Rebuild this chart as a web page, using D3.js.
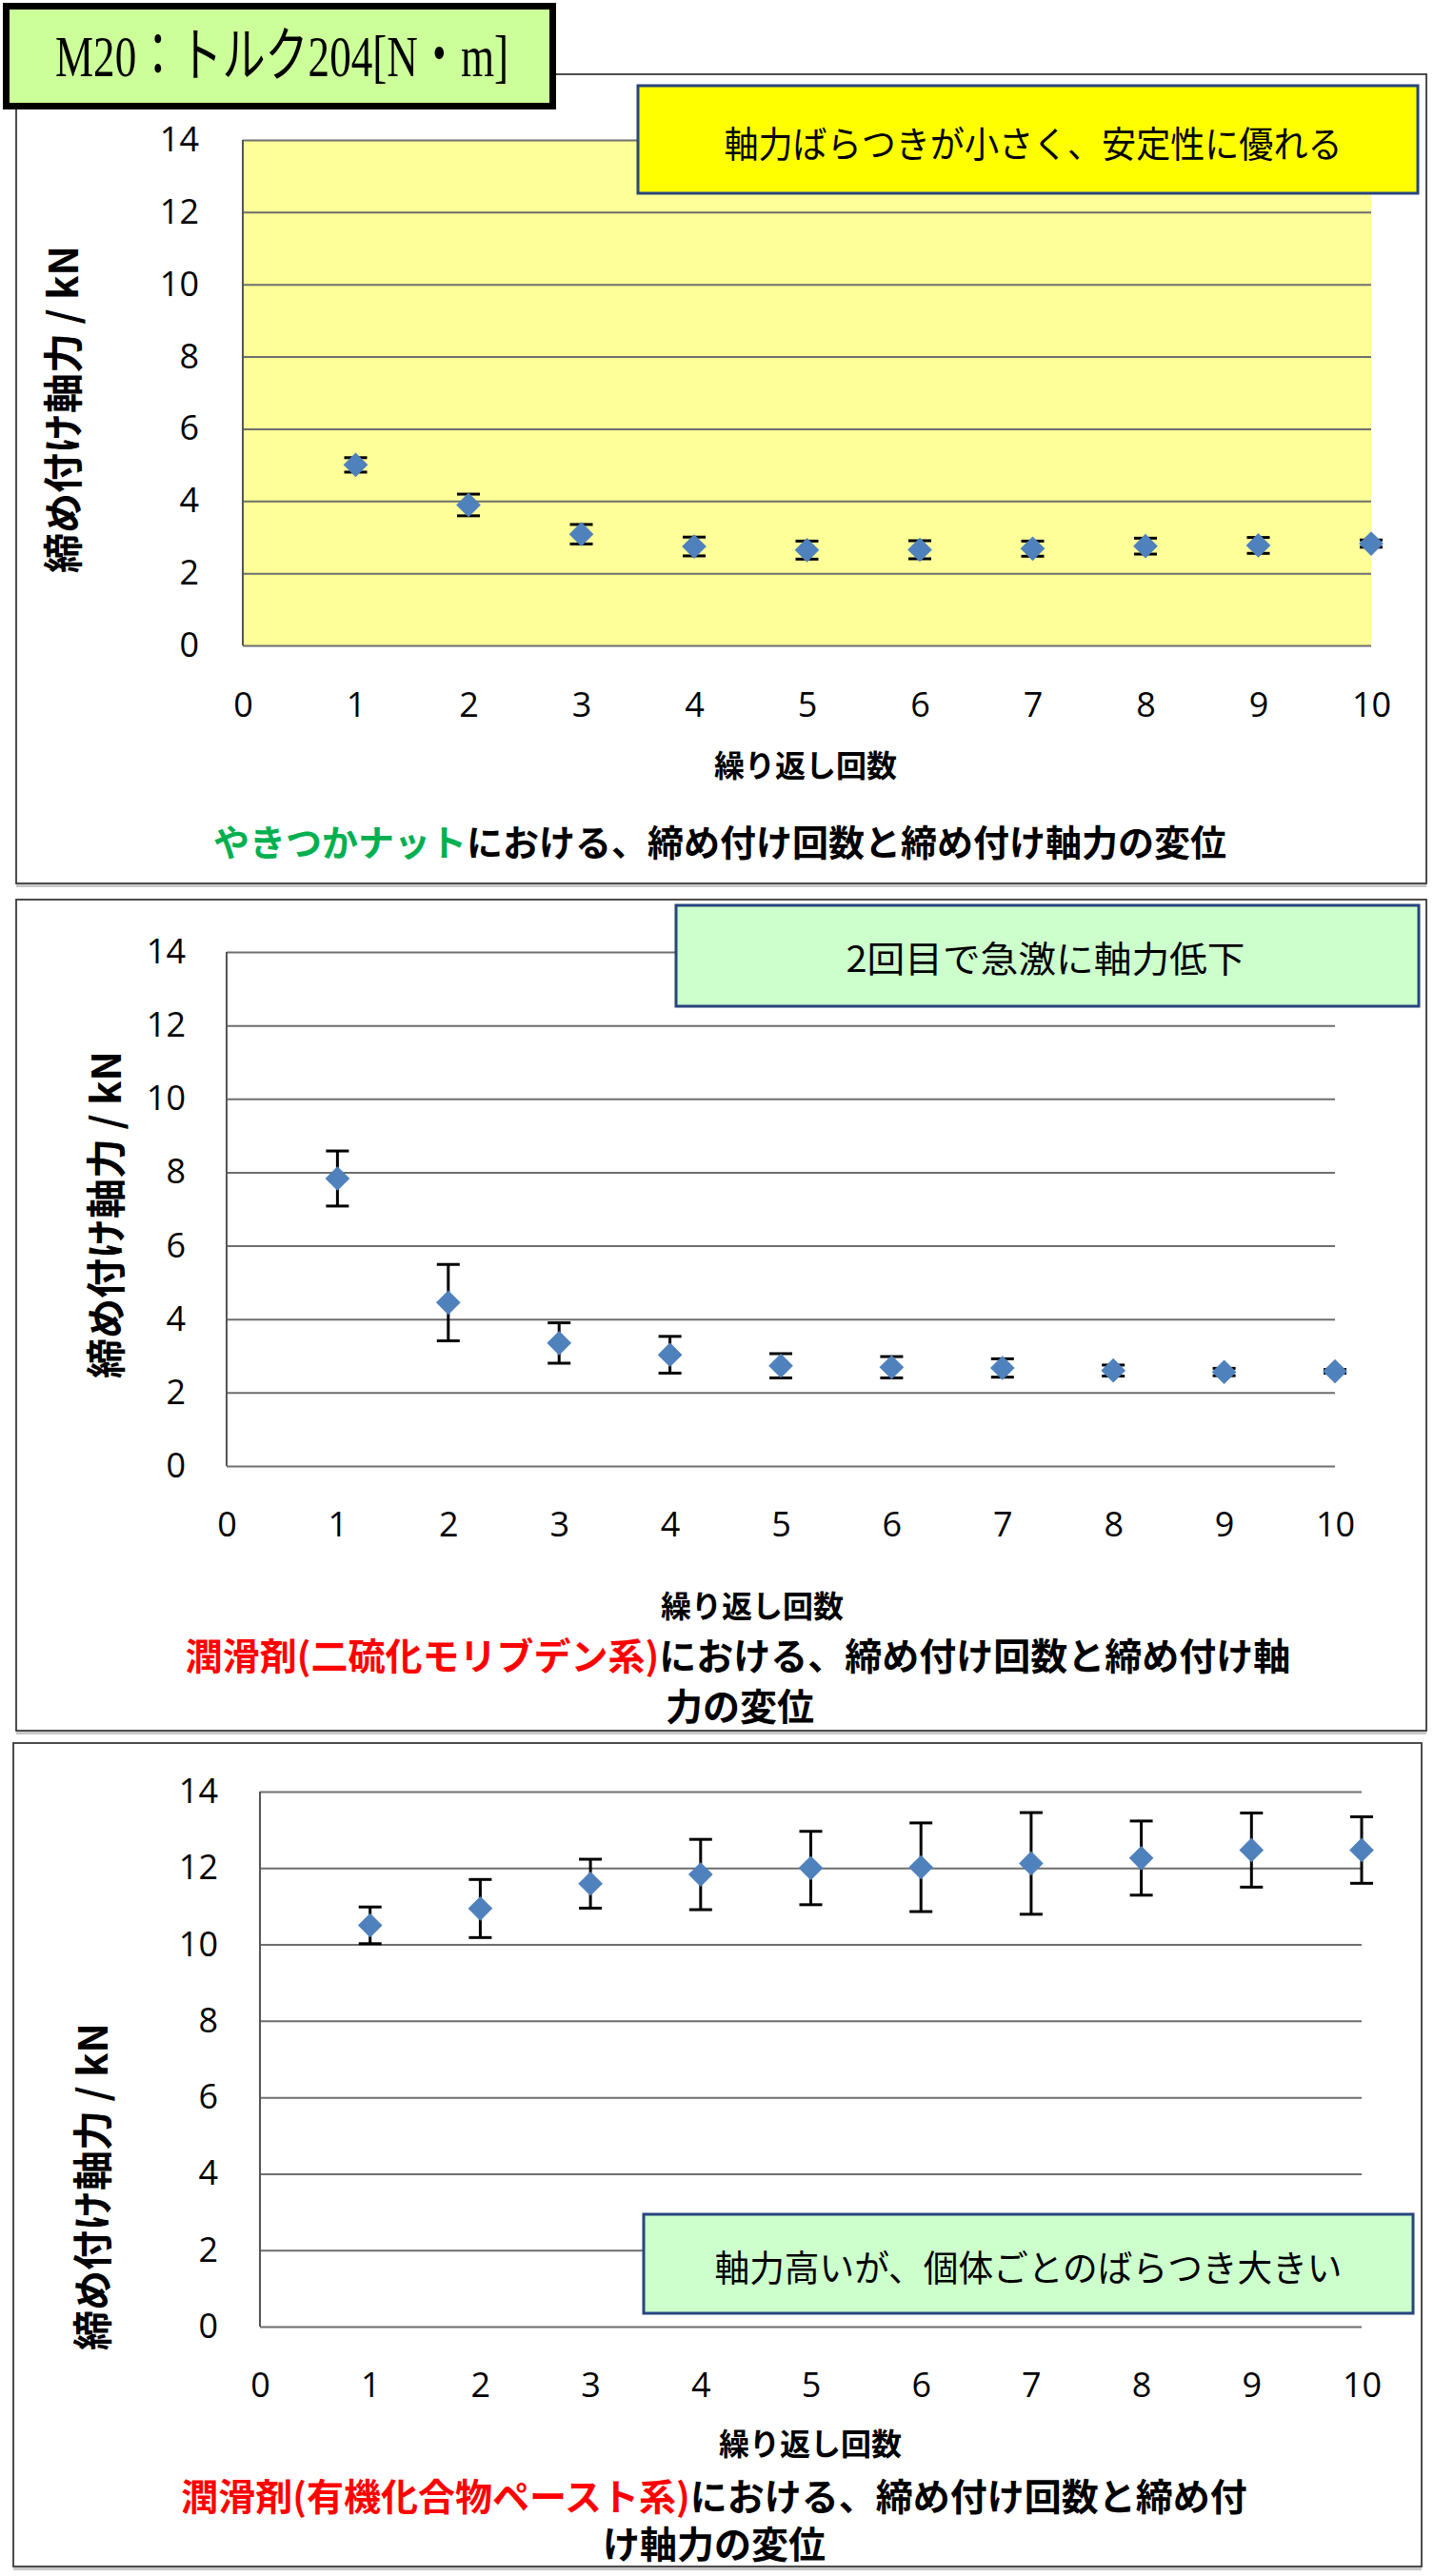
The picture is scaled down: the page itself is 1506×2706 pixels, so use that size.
<!DOCTYPE html>
<html><head><meta charset="utf-8">
<script src="https://cdn.jsdelivr.net/npm/d3@7"></script>
<style>html,body{margin:0;padding:0;background:#fff}</style>
</head><body>
<svg id="c" width="1506" height="2706"></svg>
<script>
// ---------- DATA ----------
const iterations = [1, 2, 3, 4, 5, 6, 7, 8, 9, 10];
const xTicks = [0, 1, 2, 3, 4, 5, 6, 7, 8, 9, 10];
const yTicks = [0, 2, 4, 6, 8, 10, 12, 14];

const nutMeans = [5.00, 3.89, 3.08, 2.74, 2.64, 2.65, 2.68, 2.75, 2.77, 2.82];
const nutErr   = [0.20, 0.30, 0.27, 0.26, 0.25, 0.25, 0.21, 0.22, 0.22, 0.10];

const mosMeans = [7.83, 4.45, 3.35, 3.03, 2.73, 2.69, 2.67, 2.60, 2.56, 2.58];
const mosErr   = [0.75, 1.04, 0.55, 0.50, 0.33, 0.29, 0.25, 0.15, 0.10, 0.05];

const pasteMeans = [10.50, 10.94, 11.59, 11.83, 12.00, 12.02, 12.12, 12.26, 12.47, 12.47];
const pasteErr   = [0.48, 0.76, 0.64, 0.92, 0.96, 1.16, 1.33, 0.97, 0.97, 0.87];

const mainTitle = "M20：トルク204[N・m]";
const yTitle = "締め付け軸力 / kN";
const xTitle = "繰り返し回数";
const notes = ["軸力ばらつきが小さく、安定性に優れる", "2回目で急激に軸力低下", "軸力高いが、個体ごとのばらつき大きい"];
const captions = [
  [[{t: "やきつかナット", c: "#00B050"}, {t: "における、締め付け回数と締め付け軸力の変位", c: "#000"}]],
  [[{t: "潤滑剤(二硫化モリブデン系)", c: "#FF0000"}, {t: "における、締め付け回数と締め付け軸", c: "#000"}],
   [{t: "力の変位", c: "#000"}]],
  [[{t: "潤滑剤(有機化合物ペースト系)", c: "#FF0000"}, {t: "における、締め付け回数と締め付", c: "#000"}],
   [{t: "け軸力の変位", c: "#000"}]]
];

// ---------- LAYOUT ----------
const panels = [
  {means: nutMeans, err: nutErr, frame: {x: 17, y: 78, w: 1481, h: 850},
   plot: {l: 255, r: 1440, t: 147, b: 678}, bg: "#FFFF99", yLabRight: 209, xLabY: 740,
   yT: {x: 63, y: 430}, xT: {x: 846, y: 802}, capY: [882], capX: [756], capSize: 38,
   note: {x: 670, y: 90, w: 819, h: 113, fill: "#FFFF00", tx: 1085, ty: 148, tl: 649}},
  {means: mosMeans, err: mosErr, frame: {x: 17, y: 945, w: 1481, h: 873},
   plot: {l: 238, r: 1402, t: 1000, b: 1540}, bg: null, yLabRight: 195, xLabY: 1601,
   yT: {x: 108, y: 1276}, xT: {x: 790, y: 1685}, capY: [1737, 1790], capX: [775, 777], capSize: 39,
   note: {x: 710, y: 951, w: 780, h: 106, fill: "#CCFFCC", tx: 1098, ty: 1004, tl: 419}},
  {means: pasteMeans, err: pasteErr, frame: {x: 14, y: 1831, w: 1479, h: 865},
   plot: {l: 273, r: 1430, t: 1882, b: 2444}, bg: null, yLabRight: 229, xLabY: 2505,
   yT: {x: 94, y: 2297}, xT: {x: 851, y: 2565}, capY: [2620, 2670], capX: [750, 750], capSize: 39,
   note: {x: 676, y: 2326, w: 808, h: 104, fill: "#CCFFCC", tx: 1080, ty: 2379, tl: 659}}
];

const svg = d3.select("#c");
const jp = "'Noto Sans CJK JP', 'Noto Sans', sans-serif";
const num = "'Open Sans', 'Liberation Sans', sans-serif";

panels.forEach((p, i) => {
  const g = svg.append("g");
  // frame
  g.append("rect").attr("x", p.frame.x).attr("y", p.frame.y + p.frame.h + 1)
    .attr("width", p.frame.w).attr("height", 3).attr("fill", "#c8c8c8");
  g.append("rect").attr("x", p.frame.x).attr("y", p.frame.y)
    .attr("width", p.frame.w).attr("height", p.frame.h)
    .attr("fill", "#fff").attr("stroke", "#3a3a3a").attr("stroke-width", 1.8);

  const x = d3.scaleLinear().domain([0, 10]).range([p.plot.l, p.plot.r]);
  const y = d3.scaleLinear().domain([0, 14]).range([p.plot.b, p.plot.t]);

  if (p.bg) {
    g.append("rect").attr("x", p.plot.l).attr("y", p.plot.t)
      .attr("width", p.plot.r - p.plot.l).attr("height", p.plot.b - p.plot.t).attr("fill", p.bg);
  }
  // gridlines
  const grid = g.append("g").attr("transform", `translate(${p.plot.l},0)`)
    .call(d3.axisLeft(y).tickValues(yTicks).tickSize(-(p.plot.r - p.plot.l)).tickFormat(""));
  grid.select(".domain").remove();
  grid.selectAll("text").remove();
  grid.selectAll("line").attr("stroke", "#6e6e6e").attr("stroke-width", 2);
  // left axis line
  g.append("line").attr("x1", p.plot.l).attr("x2", p.plot.l).attr("y1", p.plot.t).attr("y2", p.plot.b)
    .attr("stroke", "#555").attr("stroke-width", 2);

  // y labels
  const ya = g.append("g").attr("transform", `translate(${p.plot.l},0)`)
    .call(d3.axisLeft(y).tickValues(yTicks).tickSize(0).tickPadding(p.plot.l - p.yLabRight));
  ya.select(".domain").remove();
  ya.selectAll("text").attr("font-family", num).attr("font-size", 36).attr("fill", "#000");

  // x labels
  const xa = g.append("g").attr("transform", `translate(0,${p.plot.b})`)
    .call(d3.axisBottom(x).tickValues(xTicks).tickSize(0));
  xa.select(".domain").remove();
  xa.selectAll("text").attr("y", p.xLabY - p.plot.b).attr("dy", "0.36em")
    .attr("font-family", num).attr("font-size", 36).attr("fill", "#000");

  // error bars
  const pts = iterations.map((it, k) => ({it, m: p.means[k], e: p.err[k]}));
  const eb = g.append("g").attr("stroke", "#000").attr("stroke-width", 3);
  eb.selectAll(".stem").data(pts).join("line")
    .attr("x1", d => x(d.it)).attr("x2", d => x(d.it))
    .attr("y1", d => y(d.m - d.e)).attr("y2", d => y(d.m + d.e));
  eb.selectAll(".capT").data(pts).join("line")
    .attr("x1", d => x(d.it) - 12).attr("x2", d => x(d.it) + 12)
    .attr("y1", d => y(d.m + d.e)).attr("y2", d => y(d.m + d.e));
  eb.selectAll(".capB").data(pts).join("line")
    .attr("x1", d => x(d.it) - 12).attr("x2", d => x(d.it) + 12)
    .attr("y1", d => y(d.m - d.e)).attr("y2", d => y(d.m - d.e));

  // markers
  const sym = d3.symbol().type(d3.symbolSquare).size(330);
  g.append("g").selectAll("path").data(pts).join("path")
    .attr("d", sym)
    .attr("transform", d => `translate(${x(d.it)},${y(d.m)}) rotate(45)`)
    .attr("fill", "#4F81BD");

  // axis titles
  g.append("text").attr("transform", `translate(${p.yT.x},${p.yT.y}) rotate(-90)`)
    .attr("text-anchor", "middle").attr("dominant-baseline", "central")
    .attr("font-family", jp).attr("font-weight", "bold").attr("font-size", 42)
    .text(yTitle);
  g.append("text").attr("x", p.xT.x).attr("y", p.xT.y)
    .attr("text-anchor", "middle").attr("dominant-baseline", "central")
    .attr("font-family", jp).attr("font-weight", "bold").attr("font-size", 32)
    .text(xTitle);

  // captions
  captions[i].forEach((line, li) => {
    const t = g.append("text").attr("x", p.capX[li]).attr("y", p.capY[li])
      .attr("text-anchor", "middle").attr("dominant-baseline", "central")
      .attr("font-family", jp).attr("font-weight", "bold").attr("font-size", p.capSize);
    line.forEach(part => t.append("tspan").attr("fill", part.c).text(part.t));
  });

  // note box
  g.append("rect").attr("x", p.note.x).attr("y", p.note.y)
    .attr("width", p.note.w).attr("height", p.note.h)
    .attr("fill", p.note.fill).attr("stroke", "#27457f").attr("stroke-width", 3);
  g.append("text").attr("x", p.note.tx).attr("y", p.note.ty)
    .attr("text-anchor", "middle").attr("dominant-baseline", "central")
    .attr("font-family", jp).attr("font-size", 38)
    .attr("textLength", p.note.tl).attr("lengthAdjust", "spacingAndGlyphs")
    .text(notes[i]);
});

// main title box
svg.append("rect").attr("x", 6.5).attr("y", 6.5).attr("width", 574).attr("height", 105)
  .attr("fill", "#CCFF99").attr("stroke", "#000").attr("stroke-width", 7);
svg.append("text").attr("x", 296).attr("y", 59)
  .attr("text-anchor", "middle").attr("dominant-baseline", "central")
  .attr("font-family", "'Liberation Serif', 'Noto Sans CJK JP', serif").attr("font-size", 62)
  .attr("textLength", 476).attr("lengthAdjust", "spacingAndGlyphs")
  .text(mainTitle);
</script>
</body></html>
